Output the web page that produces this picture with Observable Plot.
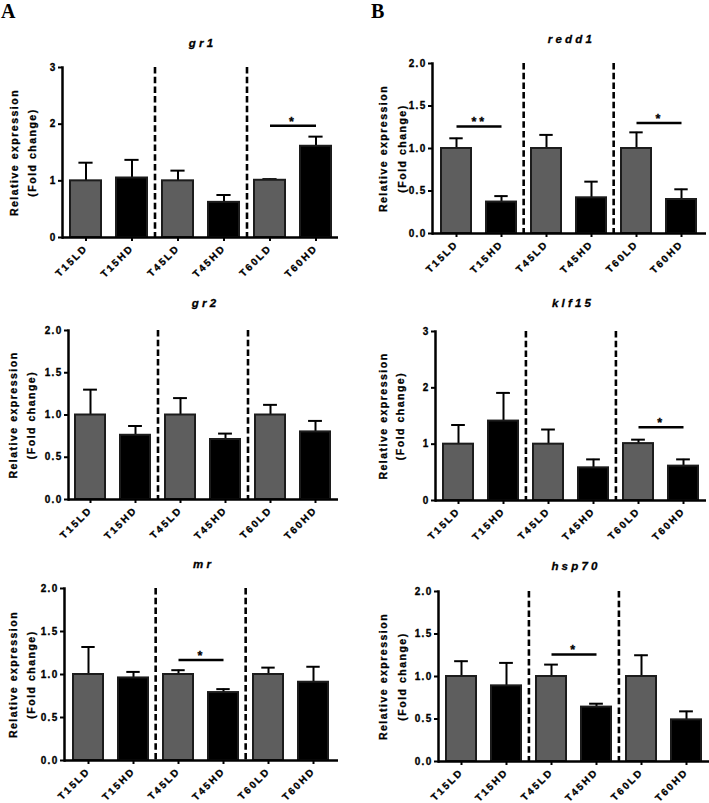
<!DOCTYPE html>
<html><head><meta charset="utf-8">
<script src="https://cdn.jsdelivr.net/npm/d3@7"></script>
<script src="https://cdn.jsdelivr.net/npm/@observablehq/plot@0.6"></script>
<style>
body{margin:0;background:#fff;}
#wrap{position:relative;width:709px;height:803px;overflow:hidden;background:#fff;}
.panel{position:absolute;}
.panel svg{overflow:visible;}
.panel svg text{stroke:#000;stroke-width:0.3px;}
.lbl{position:absolute;font-family:"Liberation Serif","Times New Roman",serif;font-weight:bold;font-size:20px;line-height:1;}
.panel g[aria-label="x-axis tick label"] text{letter-spacing:2px;}
.panel g[aria-label="y-axis tick label"] text{letter-spacing:1.3px;}
.panel .ylab text{letter-spacing:1.5px;}
.panel .gtitle text{letter-spacing:3.2px;}
.panel .stars text{letter-spacing:3px;}
</style></head>
<body>
<div id="wrap">
  <div class="lbl" style="left:1px;top:1px;">A</div>
  <div class="lbl" style="left:371px;top:1px;">B</div>
</div>
<script>
const categories = ["T15LD","T15HD","T45LD","T45HD","T60LD","T60HD"];
const groups = ["LD","HD"];
const genes = ["gr1","redd1","gr2","klf15","mr","hsp70"];
const yLabel1 = "Relative expression";
const yLabel2 = "(Fold change)";
const dividerBefore = ["T45LD","T60LD"];

const ticksWhole = [0,1,2,3];
const ticksHalf = [0,0.5,1,1.5,2];

const gr1Mean   = [1.00, 1.05, 1.00, 0.62, 1.01, 1.61];
const gr1Sem    = [0.32, 0.32, 0.18, 0.13, 0.02, 0.17];
const redd1Mean = [1.00, 0.37, 1.00, 0.42, 1.00, 0.40];
const redd1Sem  = [0.12, 0.07, 0.16, 0.19, 0.19, 0.12];
const gr2Mean   = [1.00, 0.76, 1.00, 0.71, 1.00, 0.80];
const gr2Sem    = [0.30, 0.11, 0.20, 0.07, 0.12, 0.13];
const klf15Mean = [1.00, 1.41, 1.00, 0.58, 1.01, 0.61];
const klf15Sem  = [0.34, 0.50, 0.26, 0.15, 0.07, 0.12];
const mrMean    = [1.00, 0.96, 1.00, 0.79, 1.00, 0.91];
const mrSem     = [0.32, 0.07, 0.05, 0.04, 0.08, 0.18];
const hsp70Mean = [1.00, 0.89, 1.00, 0.64, 1.00, 0.49];
const hsp70Sem  = [0.18, 0.27, 0.14, 0.04, 0.25, 0.10];

const gr1Sig   = [{from:"T60LD", to:"T60HD", y:1.97, label:"*"}];
const redd1Sig = [{from:"T15LD", to:"T15HD", y:1.26, label:"**"}, {from:"T60LD", to:"T60HD", y:1.30, label:"*"}];
const gr2Sig   = [];
const klf15Sig = [{from:"T60LD", to:"T60HD", y:1.30, label:"*"}];
const mrSig    = [{from:"T45LD", to:"T45HD", y:1.17, label:"*"}];
const hsp70Sig = [{from:"T45LD", to:"T45HD", y:1.26, label:"*"}];

const yMax = {gr1:3, redd1:2, gr2:2, klf15:3, mr:2, hsp70:2};
const yTicks = {gr1:ticksWhole, redd1:ticksHalf, gr2:ticksHalf, klf15:ticksWhole, mr:ticksHalf, hsp70:ticksHalf};
const means = {gr1:gr1Mean, redd1:redd1Mean, gr2:gr2Mean, klf15:klf15Mean, mr:mrMean, hsp70:hsp70Mean};
const sems = {gr1:gr1Sem, redd1:redd1Sem, gr2:gr2Sem, klf15:klf15Sem, mr:mrSem, hsp70:hsp70Sem};
const sigs = {gr1:gr1Sig, redd1:redd1Sig, gr2:gr2Sig, klf15:klf15Sig, mr:mrSig, hsp70:hsp70Sig};

const layout = {
  gr1:   {left:0,   top:0,   width:354, height:270, ml:62, mr:16, mt:67, mb:33, tdy:-24, l1:-48, l2:-30},
  redd1: {left:354, top:0,   width:355, height:270, ml:78, mr:3,  mt:63, mb:37, tdy:-24, l1:-49, l2:-30},
  gr2:   {left:0,   top:270, width:354, height:265, ml:68, mr:16, mt:60, mb:36, tdy:-27, l1:-55, l2:-37},
  klf15: {left:354, top:270, width:355, height:265, ml:81, mr:3,  mt:61, mb:35, tdy:-28, l1:-52, l2:-35},
  mr:    {left:0,   top:535, width:354, height:268, ml:64, mr:16, mt:53, mb:43, tdy:-24, l1:-51, l2:-33},
  hsp70: {left:354, top:535, width:355, height:268, ml:84, mr:0,  mt:56, mb:42, tdy:-25, l1:-55, l2:-36}
};

const wrap = document.getElementById("wrap");
const pIn = 0.33;

for (const g of genes) {
  const L = layout[g];
  const data = categories.map((c, i) => ({cat: c, group: c.slice(-2), mean: means[g][i], sem: sems[g][i]}));
  const step = (L.width - L.ml - L.mr) / 6;
  const bw = step * (1 - pIn);
  const capInset = Math.max(0, (bw - 14) / 2);
  const fmt = yMax[g] === 3 ? d3.format("d") : d3.format(".1f");
  const chart = Plot.plot({
    width: L.width, height: L.height,
    marginLeft: L.ml, marginRight: L.mr, marginTop: L.mt, marginBottom: L.mb,
    style: {fontFamily: "'Liberation Sans', Arial, sans-serif", fontSize: "10px", fontWeight: "bold", color: "#000", background: "transparent", overflow: "visible"},
    x: {domain: categories, paddingInner: pIn, paddingOuter: pIn / 2, axis: null},
    y: {domain: [0, yMax[g]], axis: null},
    color: {domain: groups, range: ["#5e5e5e", "#000000"]},
    marks: [
      Plot.ruleX(dividerBefore, {x: d => d, dx: -step / 2, stroke: "#000", strokeWidth: 2.6, strokeDasharray: "6.5,3.2"}),
      Plot.ruleX(data, {x: "cat", y1: "mean", y2: d => d.mean + d.sem, stroke: "#000", strokeWidth: 2}),
      Plot.tickY(data, {x: "cat", y: d => d.mean + d.sem, stroke: "#000", strokeWidth: 2, insetLeft: capInset, insetRight: capInset}),
      Plot.barY(data, {x: "cat", y: "mean", fill: "group", stroke: "#1c1c1c", strokeWidth: 2}),
      Plot.link(sigs[g], {x1: "from", x2: "to", y1: "y", y2: "y", stroke: "#000", strokeWidth: 2.5}),
      Plot.text(sigs[g], {x: "from", y: "y", text: "label", dx: step / 2, lineAnchor: "bottom", fontSize: 12.5, fontWeight: "bold", fill: "#000", className: "stars"}),
      Plot.frame({anchor: "left", stroke: "#000", strokeWidth: 2.5}),
      Plot.ruleY([0], {stroke: "#000", strokeWidth: 2.5}),
      Plot.axisY({ticks: yTicks[g], tickFormat: fmt, tickSize: 4, tickPadding: 2, strokeWidth: 2, fontSize: 10, fontWeight: "bold", fill: "#000", label: null}),
      Plot.axisX({tickSize: 4, tickPadding: 5, tickRotate: -45, strokeWidth: 2, fontSize: 10, fontWeight: "bold", fill: "#000", label: null}),
      Plot.text([g], {frameAnchor: "top", dy: L.tdy, dx: 2, lineAnchor: "middle", fontStyle: "italic", fontWeight: "bold", fontSize: 11.5, fill: "#000", className: "gtitle"}),
      Plot.text([yLabel1], {y: () => yMax[g] / 2, frameAnchor: "left", rotate: -90, textAnchor: "middle", dx: L.l1, lineAnchor: "middle", fontSize: 10.5, fontWeight: "bold", fill: "#000", className: "ylab"}),
      Plot.text([yLabel2], {y: () => yMax[g] / 2, frameAnchor: "left", rotate: -90, textAnchor: "middle", dx: L.l2, lineAnchor: "middle", fontSize: 10.5, fontWeight: "bold", fill: "#000", className: "ylab"})
    ]
  });
  const div = document.createElement("div");
  div.className = "panel";
  div.style.left = L.left + "px";
  div.style.top = L.top + "px";
  div.appendChild(chart);
  wrap.appendChild(div);
}
</script>
</body></html>
